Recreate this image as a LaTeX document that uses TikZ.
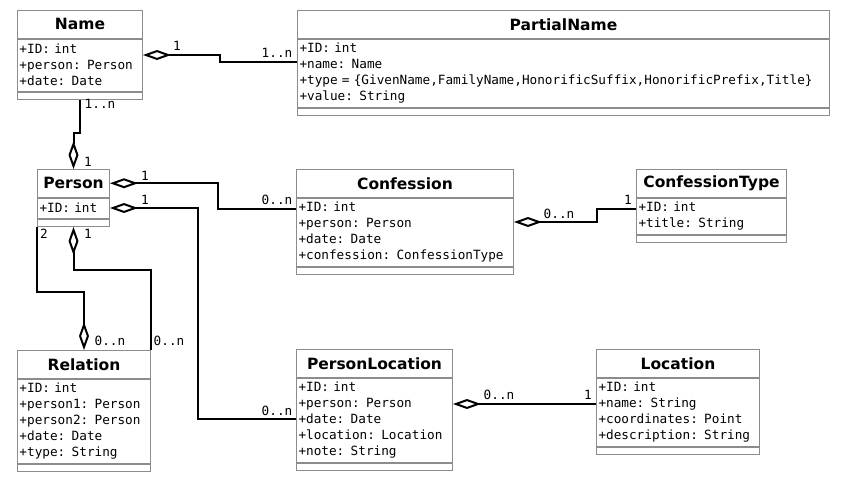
\documentclass[tikz,border=0pt]{standalone}
\usepackage{fontspec}
\setmainfont{DejaVu Sans}
\newfontfamily\dvmono{DejaVu Sans Mono}
\usetikzlibrary{arrows.meta,calc}
\definecolor{boxgray}{HTML}{8C8C8C}
\newcommand{\ttlfont}{\fontsize{15.5}{18}\selectfont\bfseries}
\newcommand{\attfont}{\dvmono\fontsize{12.7}{16.1}\selectfont}
\tikzset{
  cls/.style={draw=boxgray, line width=1pt, inner sep=0pt, anchor=north west},
  ttl/.style={cls, minimum height=27.5pt, font=\ttlfont},
  attr/.style={cls, align=left, font=\attfont, inner xsep=2pt, inner ysep=0pt},
  opsbox/.style={cls, minimum height=7.5pt},
  agg/.style={line width=2pt, arrows={Diamond[open,length=28pt,width=10pt]-}},
  gga/.style={line width=2pt, arrows={-Diamond[open,length=28pt,width=10pt]}},
  conn/.style={line width=2pt},
  lbl/.style={font=\attfont, inner sep=0pt, text=black},
}
\newcommand{\umlclass}[7]{%
  \pgfmathsetmacro\umltw{#4-4}%
  \node[ttl, minimum width=#4] (#1-t) at (#2,#3) {#5};
  \node[attr, text width=\umltw pt, minimum width=#4, minimum height=16*#6+4] (#1-a) at (#1-t.south west) {#7};
  \node[opsbox, minimum width=#4] (#1-o) at (#1-a.south west) {};
}
\begin{document}
\begin{tikzpicture}[x=1pt,y=-1pt]
\useasboundingbox (0,0) rectangle (848,480);

\umlclass{Name}{17}{10}{125}{Name}{3}{+ID: int\\+person: Person\\+date: Date}
\umlclass{PartialName}{297}{10}{532}{PartialName}{4}{+ID: int\\+name: Name\\+type = \{GivenName,FamilyName,HonorificSuffix,HonorificPrefix,Title\}\\+value: String}
\umlclass{Person}{37}{169}{72}{Person}{1}{+ID: int}
\umlclass{Confession}{296}{169}{217}{Confession}{4}{+ID: int\\+person: Person\\+date: Date\\+confession: ConfessionType}
\umlclass{ConfessionType}{636}{169}{150}{ConfessionType}{2}{+ID: int\\+title: String}
\umlclass{Relation}{17}{350}{133}{Relation}{5}{+ID: int\\+person1: Person\\+person2: Person\\+date: Date\\+type: String}
\umlclass{PersonLocation}{296}{349}{156}{PersonLocation}{5}{+ID: int\\+person: Person\\+date: Date\\+location: Location\\+note: String}
\umlclass{Location}{596}{349}{163}{Location}{4}{+ID: int\\+name: String\\+coordinates: Point\\+description: String}

% connectors
\draw[agg] ($(Name-a.north east)+(0,16.5)$) -- ++(77,0) |- ($(PartialName-a.north west)+(0,23.5)$);
\draw[gga] (Name-o.south) -- ++(0,33) -| (Person-t.north);
\draw[agg] (Person-t.east) -- ++(108,0) |- ($(Confession-a.north west)+(0,11)$);
\draw[agg] (Person-a.east) -- ++(88,0) |- ($(PersonLocation-a.north west)+(0,41.5)$);
\draw[agg] (Person-o.south) -- ++(0,42.5) -| (Relation-t.north east);
\draw[gga] (Person-o.south west) -- ++(0,65) -| (Relation-t.north);
\draw[agg] ($(Confession-a.north east)+(0,24.5)$) -- ++(83,0) |- ($(ConfessionType-a.north west)+(0,11)$);
\draw[agg] ($(PersonLocation-a.north east)+(0,26.5)$) -- ($(Location-a.north west)+(0,26.5)$);

% multiplicities
\node[lbl] (m1) at (177,46) {1};
\node[lbl] (m2) at (277,53) {1..n};
\node[lbl] (m3) at (100,104) {1..n};
\node[lbl] (m4) at (88,162) {1};
\node[lbl] (m5) at (145,176) {1};
\node[lbl] (m6) at (277,200) {0..n};
\node[lbl] (m7) at (145,200) {1};
\node[lbl] (m8) at (44,234) {2};
\node[lbl] (m9) at (88,234) {1};
\node[lbl] (m10) at (110,341) {0..n};
\node[lbl] (m11) at (169,341) {0..n};
\node[lbl] (m12) at (277,411) {0..n};
\node[lbl] (m13) at (559,214) {0..n};
\node[lbl] (m14) at (628,200) {1};
\node[lbl] (m15) at (499,395) {0..n};
\node[lbl] (m16) at (588,395) {1};
\end{tikzpicture}
\end{document}
